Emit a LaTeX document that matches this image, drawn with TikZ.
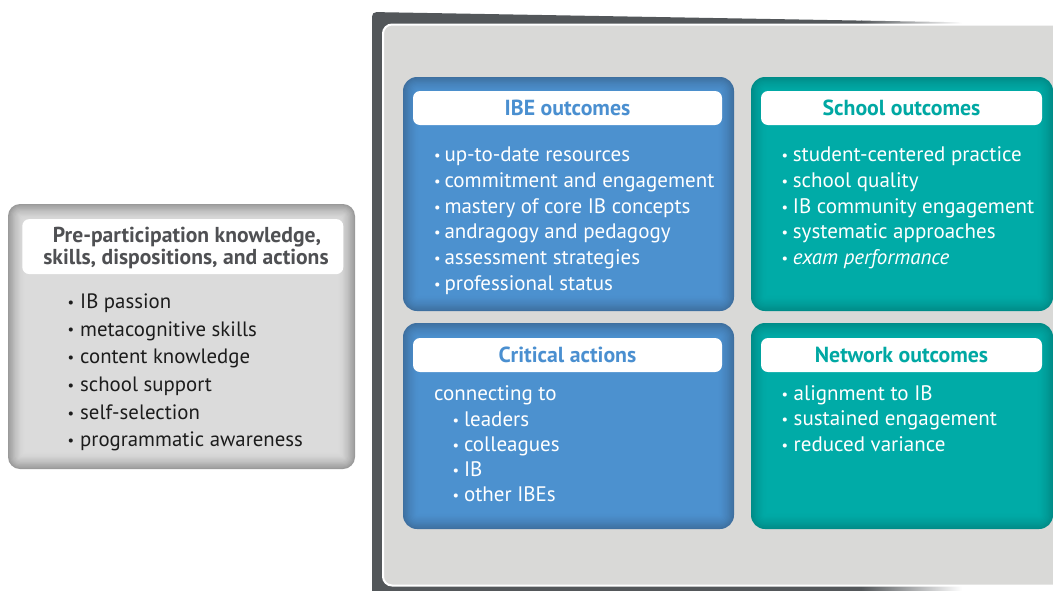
\documentclass[tikz,border=0pt]{standalone}
\usepackage{fontspec}
\setmainfont{PT Sans}
\definecolor{frameDark}{HTML}{53575A}
\definecolor{panel}{HTML}{D9D9D7}
\definecolor{blueEdge}{HTML}{3E70A0}
\definecolor{blueMid}{HTML}{4C91CF}
\definecolor{tealEdge}{HTML}{008C88}
\definecolor{tealMid}{HTML}{00ABA7}
\definecolor{grayEdge}{HTML}{9A9A9A}
\definecolor{grayMid}{HTML}{DBDBDB}
\definecolor{blueText}{HTML}{4A8FD0}
\definecolor{tealText}{HTML}{00A8A3}
\definecolor{hdrGray}{HTML}{4F5053}
\definecolor{itemText}{HTML}{1C1C1C}
\newcommand\glowbox[7]{%
  \foreach \k in {0,...,14}{%
    \pgfmathtruncatemacro\pct{100*(1-\k/14)^1.7}%
    \pgfmathsetmacro\rad{max(#7-\k*1.2,1)}%
    \fill[color=#5!\pct!#6, rounded corners=\rad pt]
      ({#1+\k*1.2},{#2+\k*1.2}) rectangle ({#3-\k*1.2},{#4-\k*1.2});
  }%
}
\newcommand\bul[1]{\makebox[#1][l]{\fontsize{14.5}{14}\selectfont\raisebox{0.15ex}{•}}}
\begin{document}
\begin{tikzpicture}[x=1pt,y=-1pt,
  hdrbox/.style={fill=white, rounded corners=7pt, inner sep=0pt, font=\fontsize{21.8}{24}\selectfont\bfseries},
  item/.style={anchor=base west, inner sep=0pt, text=white, font=\fontsize{21}{24}\selectfont},
  leftitem/.style={anchor=base west, inner sep=0pt, text=itemText, font=\fontsize{20.8}{24}\selectfont},
  prehead/.style={anchor=base, inner sep=0pt, text height=14pt, text depth=4pt, text=hdrGray, font=\fontsize{21.6}{24}\selectfont\bfseries}]
\useasboundingbox (0,0) rectangle (1053,590);
\clip (0,0) rectangle (1053,590);
% dark frame
\fill[frameDark] (372,600) -- (372,22) .. controls (372,12) .. (382,12.2) -- (862,20.6) -- (862,600) -- cycle;
\shade[left color=frameDark, right color=white] (861,20.58) -- (962,22.3) -- (962,600) -- (861,600) -- cycle;
% inner panel
\filldraw[fill=panel, draw=white, line width=2pt, rounded corners=9pt] (383,24.5) rectangle (1090,585.5);
% boxes
\glowbox{403}{77}{734}{311}{blueEdge}{blueMid}{14}
\glowbox{403}{323}{734}{529}{blueEdge}{blueMid}{14}
\glowbox{751}{77}{1053}{311}{tealEdge}{tealMid}{14}
\glowbox{751}{323}{1053}{529}{tealEdge}{tealMid}{14}
\glowbox{8}{204}{355}{469}{grayEdge}{grayMid}{12}
% headers
\node[hdrbox, text=blueText, minimum width=309pt, minimum height=34pt] (ibeH) at (567.5,108) {IBE outcomes};
\node[hdrbox, text=blueText, minimum width=309pt, minimum height=34pt] (critH) at (567.5,355) {Critical actions};
\node[hdrbox, text=tealText, minimum width=281pt, minimum height=34pt] (schH) at (901.5,108) {School outcomes};
\node[hdrbox, text=tealText, minimum width=281pt, minimum height=34pt] (netH) at (901.5,355) {Network outcomes};
\node[hdrbox, minimum width=321pt, minimum height=55pt] (preBox) at (182.8,246.6) {};
\node[prehead] (preH1) at (187,242.6) {Pre-participation knowledge,};
\node[prehead] (preH2) at (186,264.2) {skills, dispositions, and actions};
% IBE items
\foreach \t [count=\i] in {up-to-date resources, commitment and engagement, mastery of core IB concepts, andragogy and pedagogy, assessment strategies, professional status}
  \node[item] (ibe\i) at (434,{161.8+25.7*(\i-1)}) {\bul{10.3pt}\t};
% School items
\foreach \t [count=\i] in {student-centered practice, school quality, IB community engagement, systematic approaches, {\itshape exam performance}}
  \node[item] (sch\i) at (781.5,{161.8+25.7*(\i-1)}) {\bul{11.2pt}\t};
% Critical actions
\node[item] (conn) at (434,400.7) {connecting to};
\foreach \t [count=\i] in {leaders, colleagues, IB, other IBEs}
  \node[item] (crit\i) at (452.5,{426.2+25*(\i-1)}) {\bul{11.3pt}\t};
% Network items
\foreach \t [count=\i] in {alignment to IB, sustained engagement, reduced variance}
  \node[item] (net\i) at (781.5,{400.7+25.2*(\i-1)}) {\bul{12pt}\t};
% Left items
\foreach \t [count=\i] in {IB passion, metacognitive skills, content knowledge, school support, self-selection, programmatic awareness}
  \node[leftitem] (pre\i) at (67.5,{308.3+27.7*(\i-1)}) {\bul{12.5pt}\t};
\end{tikzpicture}
\end{document}
